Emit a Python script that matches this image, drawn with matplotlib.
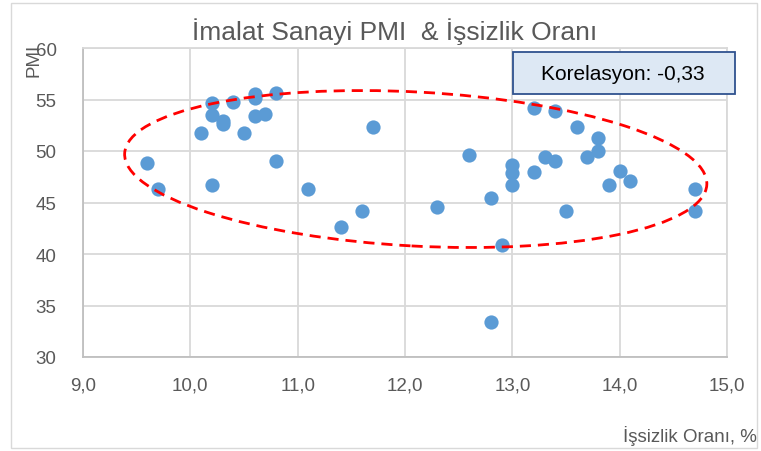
import matplotlib.pyplot as plt
import matplotlib.transforms as mtransforms
from matplotlib.patches import Ellipse, Rectangle

plt.rcParams['font.family'] = ['Liberation Sans Narrow', 'Liberation Sans', 'DejaVu Sans']

# issizlik orani (%) and imalat PMI
issizlik = [9.6, 9.7, 10.1, 10.2, 10.2, 10.2, 10.3, 10.3, 10.4, 10.5,
            10.6, 10.6, 10.6, 10.7, 10.8, 10.8, 11.1, 11.4, 11.6, 11.7,
            12.3, 12.6, 12.8, 12.8, 12.9, 13.0, 13.0, 13.0, 13.2, 13.2,
            13.3, 13.4, 13.4, 13.5, 13.6, 13.7, 13.8, 13.8, 13.9, 14.0,
            14.1, 14.7, 14.7]
pmi = [48.8, 46.3, 51.7, 54.7, 53.5, 46.7, 52.9, 52.6, 54.8, 51.7,
       55.5, 55.1, 53.4, 53.6, 55.6, 49.0, 46.3, 42.6, 44.2, 52.3,
       44.6, 49.6, 45.4, 33.4, 40.9, 48.6, 47.9, 46.7, 54.2, 48.0,
       49.4, 53.9, 49.0, 44.2, 52.3, 49.4, 51.3, 50.0, 46.7, 48.1,
       47.1, 46.3, 44.2]

x_ticks = [9, 10, 11, 12, 13, 14, 15]
y_ticks = [30, 35, 40, 45, 50, 55, 60]
korelasyon = "Korelasyon: -0,33"

grey_txt = '#595959'
grid_c = '#d9d9d9'

fig = plt.figure(figsize=(7.61, 4.52), dpi=100)
ax = fig.add_axes([83/761, 1-358/452, (727-83)/761, (358-49)/452])

ax.scatter(issizlik, pmi, s=105, color='#5b9bd5', zorder=3, linewidths=0)

ax.set_xlim(9, 15)
ax.set_ylim(30, 60)
ax.set_xticks(x_ticks)
ax.set_yticks(y_ticks)
ax.set_xticklabels(["{:.1f}".format(v).replace('.', ',') for v in x_ticks])
ax.set_yticklabels([str(v) for v in y_ticks])
ax.tick_params(length=0, labelsize=13.5, colors=grey_txt)
ax.tick_params(axis='x', pad=14)
ax.tick_params(axis='y', pad=19)
ax.grid(True, color=grid_c, linewidth=1.3)
ax.set_axisbelow(True)
for s in ax.spines.values():
    s.set_color(grid_c)
    s.set_linewidth(1.3)
ax.spines['bottom'].set_color('#bfbfbf')
ax.spines['left'].set_color('#bfbfbf')

# dashed ellipse around the cloud
ell_tr = fig.dpi_scale_trans + mtransforms.ScaledTranslation(12.1, 48.25, ax.transData)
ax.add_patch(Ellipse((0, 0), 5.83, 1.54, angle=-3.1, transform=ell_tr,
                     fill=False, edgecolor='#ff0000', linestyle=(0, (4, 2.5)),
                     linewidth=2, zorder=4, clip_on=False))

fig.text(395/761, 1-32/452, "İmalat Sanayi PMI  & İşsizlik Oranı", ha='center', va='center',
         fontsize=19, color=grey_txt)
fig.text(34/761, 1-60/452, "PMI", rotation=90, ha='center', va='center',
         fontsize=13.5, color=grey_txt)
fig.text(757/761, 1-436/452, "İşsizlik Oranı, %", ha='right', va='center',
         fontsize=13.5, color=grey_txt)

# correlation box
fig.patches.append(Rectangle((513/761, 1-95/452), (735-513)/761, (95-53)/452,
                             transform=fig.transFigure, facecolor='#dde8f4',
                             edgecolor='#2f528f', linewidth=1.3, zorder=5))
fig.text(623/761, 1-74/452, korelasyon, ha='center', va='center', fontsize=15,
         color='#000000', zorder=6)

# outer chart border
fig.patches.append(Rectangle((11/761, 1-449/452), 746/761, 445/452,
                             transform=fig.transFigure, fill=False,
                             edgecolor='#d9d9d9', linewidth=1))

fig.savefig('out.png', dpi=100)
